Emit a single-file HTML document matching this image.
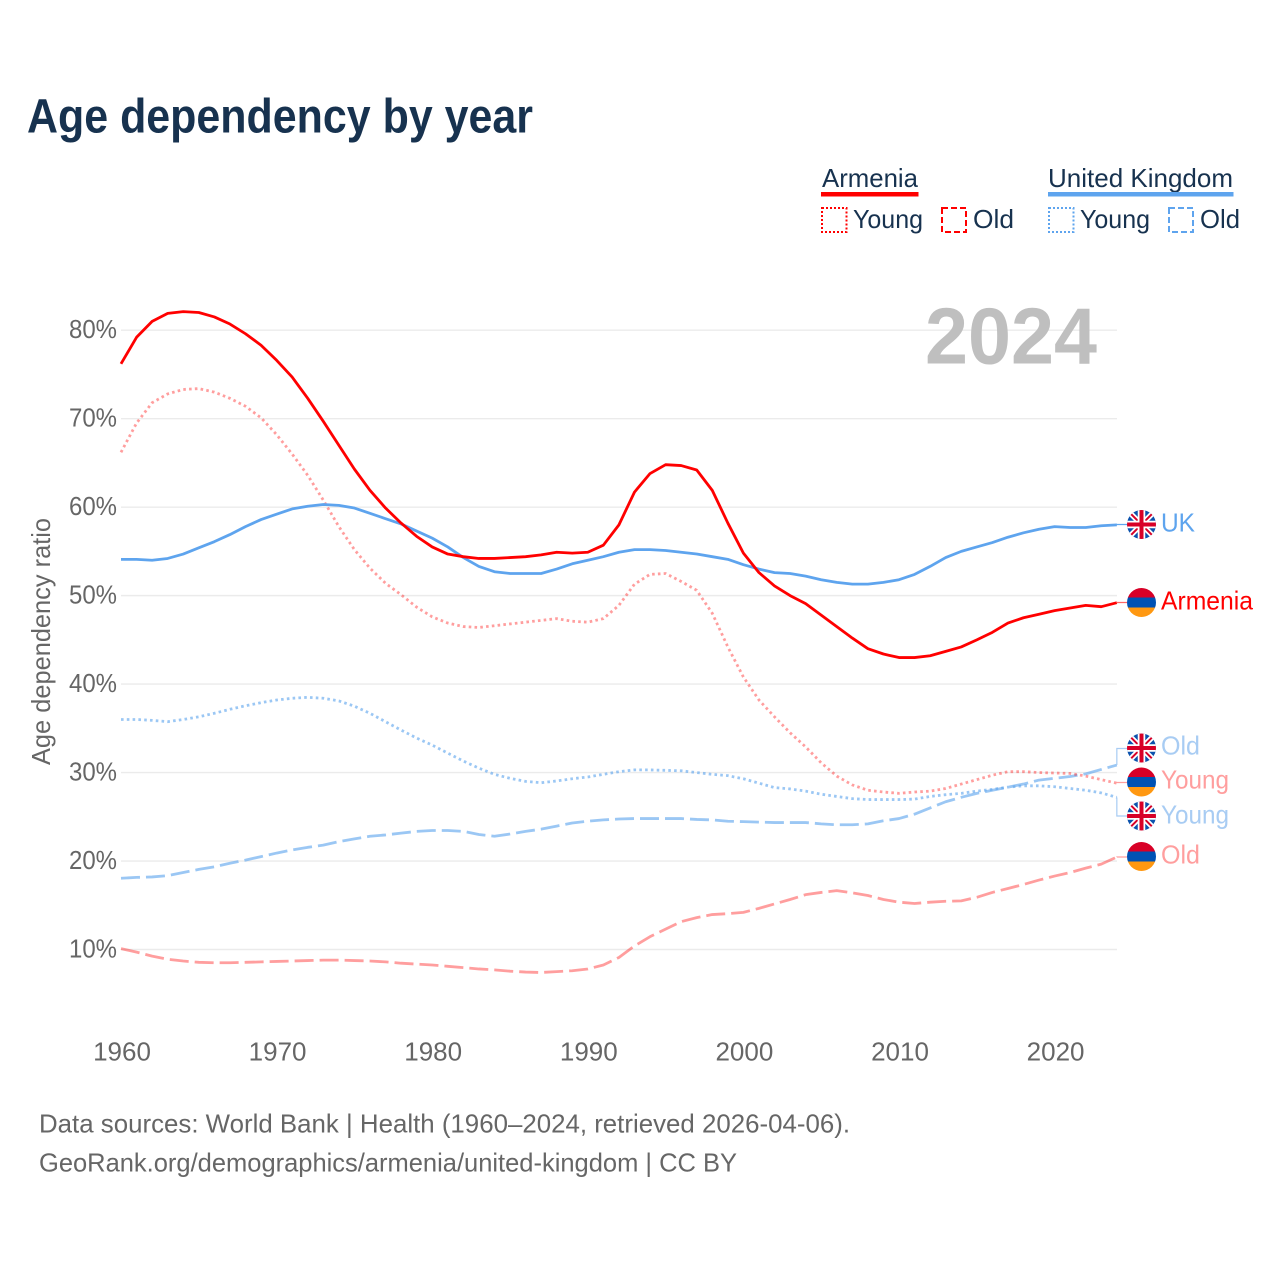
<!DOCTYPE html>
<html lang="en">
<head>
<meta charset="utf-8">
<title>Age dependency by year</title>
<style>
html,body{margin:0;padding:0;background:#fff;}
svg{display:block;font-family:"Liberation Sans",sans-serif;}
</style>
</head>
<body>
<svg id="chart" width="1280" height="1280" viewBox="0 0 1280 1280" xmlns="http://www.w3.org/2000/svg">
  <defs>
    <clipPath id="flag-clip"><circle cx="0" cy="0" r="14.5"/></clipPath>
    <g id="flag-uk" clip-path="url(#flag-clip)">
      <rect x="-15" y="-15" width="30" height="30" fill="#0b52ad"/>
      <path d="M-15-15L15 15M15-15L-15 15" stroke="#fff" stroke-width="5.5"/>
      <path d="M-15-15L15 15M15-15L-15 15" stroke="#d80027" stroke-width="2"/>
      <path d="M0-15V15M-15 0H15" stroke="#fff" stroke-width="7.5"/>
      <path d="M0-15V15M-15 0H15" stroke="#d80027" stroke-width="4"/>
    </g>
    <g id="flag-am" clip-path="url(#flag-clip)">
      <rect x="-15" y="-15" width="30" height="10" fill="#d80027"/>
      <rect x="-15" y="-5" width="30" height="10" fill="#0052b4"/>
      <rect x="-15" y="5" width="30" height="10" fill="#ff9811"/>
    </g>
  </defs>

  <rect x="0" y="0" width="1280" height="1280" fill="#fff"/>

  <text x="27" y="132.5" font-size="48" font-weight="700" fill="#17324f" textLength="506" lengthAdjust="spacingAndGlyphs">Age dependency by year</text>

  <g font-size="26" fill="#17324f">
    <text x="822" y="187" textLength="96" lengthAdjust="spacingAndGlyphs">Armenia</text>
    <rect x="821" y="192" width="97.5" height="4.5" fill="#ff0000"/>
    <rect x="822" y="208" width="24.5" height="24" fill="none" stroke="#ff0000" stroke-width="2" stroke-dasharray="2 2"/>
    <text x="853" y="228" textLength="70" lengthAdjust="spacingAndGlyphs">Young</text>
    <rect x="942" y="208" width="24" height="24" fill="none" stroke="#ff0000" stroke-width="2" stroke-dasharray="6 3"/>
    <text x="973" y="228" textLength="41" lengthAdjust="spacingAndGlyphs">Old</text>

    <text x="1048" y="187" textLength="185" lengthAdjust="spacingAndGlyphs">United Kingdom</text>
    <rect x="1048" y="192" width="185.5" height="4.5" fill="#5ea4ee"/>
    <rect x="1049" y="208" width="24.5" height="24" fill="none" stroke="#5ea4ee" stroke-width="2" stroke-dasharray="2 2"/>
    <text x="1080" y="228" textLength="70" lengthAdjust="spacingAndGlyphs">Young</text>
    <rect x="1169" y="208" width="24" height="24" fill="none" stroke="#5ea4ee" stroke-width="2" stroke-dasharray="6 3"/>
    <text x="1200" y="228" textLength="40" lengthAdjust="spacingAndGlyphs">Old</text>
  </g>

  <g id="grid"></g>
  <g id="y-ticks"></g>
  <g id="x-ticks"></g>

  <text transform="translate(50,765) rotate(-90)" font-size="26" fill="#666" textLength="247" lengthAdjust="spacingAndGlyphs">Age dependency ratio</text>

  <text x="925" y="363.5" font-size="80" font-weight="700" fill="#bfbfbf" textLength="172" lengthAdjust="spacingAndGlyphs">2024</text>

  <g id="series"></g>
  <g id="connectors"></g>

  <g font-size="26">
    <use href="#flag-uk" x="1141.5" y="524.5"/>
    <text x="1161" y="531.5" fill="#5ea4ee" textLength="34" lengthAdjust="spacingAndGlyphs">UK</text>
    <use href="#flag-am" x="1141.5" y="602.5"/>
    <text x="1161" y="609.5" fill="#ff0000" textLength="92" lengthAdjust="spacingAndGlyphs">Armenia</text>
    <use href="#flag-uk" x="1141.5" y="748"/>
    <text x="1161" y="754.5" fill="#a8ccf3" textLength="39" lengthAdjust="spacingAndGlyphs">Old</text>
    <use href="#flag-am" x="1141.5" y="782"/>
    <text x="1161" y="788.5" fill="#ff9e9e" textLength="68" lengthAdjust="spacingAndGlyphs">Young</text>
    <use href="#flag-uk" x="1141.5" y="816"/>
    <text x="1161" y="823.5" fill="#a8ccf3" textLength="68" lengthAdjust="spacingAndGlyphs">Young</text>
    <use href="#flag-am" x="1141.5" y="856.5"/>
    <text x="1161" y="863.5" fill="#ff9e9e" textLength="39" lengthAdjust="spacingAndGlyphs">Old</text>
  </g>

  <g font-size="26" fill="#666">
    <text x="39" y="1132.5" textLength="811" lengthAdjust="spacingAndGlyphs">Data sources: World Bank | Health (1960–2024, retrieved 2026-04-06).</text>
    <text x="39" y="1171.5" textLength="698" lengthAdjust="spacingAndGlyphs">GeoRank.org/demographics/armenia/united-kingdom | CC BY</text>
  </g>
</svg>

<script>
const startYear = 1960;
const yTickValues = [10, 20, 30, 40, 50, 60, 70, 80];
const xTickYears = [1960, 1970, 1980, 1990, 2000, 2010, 2020];

const armeniaTotal = [76.2,79.2,81.0,81.9,82.1,82.0,81.5,80.7,79.6,78.3,76.6,74.7,72.3,69.7,67.0,64.3,61.9,59.9,58.2,56.7,55.5,54.7,
54.4,54.2,54.2,54.3,54.4,54.6,54.9,54.8,54.9,55.7,58.0,61.7,63.8,64.8,64.7,64.2,61.9,58.2,54.8,
52.6,51.1,50.0,49.1,47.8,46.5,45.2,44.0,43.4,43.0,43.0,43.2,43.7,44.2,45.0,45.85,46.9,47.5,47.9,48.3,48.6,48.9,48.75,49.2];

const ukTotal = [54.1,54.1,54.0,54.2,54.7,55.4,56.1,56.9,57.8,58.6,59.2,59.8,60.1,60.3,60.2,59.9,59.3,58.7,58.1,57.3,56.5,55.5,
54.3,53.3,52.7,52.5,52.5,52.5,53.0,53.6,54.0,54.4,54.9,55.2,55.2,55.1,54.9,54.7,54.4,54.1,53.5,
53.0,52.6,52.5,52.2,51.8,51.5,51.3,51.3,51.5,51.8,52.4,53.3,54.3,55.0,55.5,56.0,56.6,57.1,57.5,57.8,57.7,57.7,57.9,58.0];

const armeniaYoung = [66.2,69.5,71.8,72.8,73.3,73.4,73.0,72.3,71.4,70.1,68.2,66.0,63.6,60.8,57.8,55.2,53.1,51.4,50.1,48.7,47.6,46.9,
46.5,46.4,46.6,46.8,47.0,47.2,47.4,47.1,47.0,47.4,48.9,51.3,52.4,52.5,51.6,50.6,48.0,44.2,40.8,
38.2,36.3,34.5,32.9,31.1,29.6,28.6,28.0,27.8,27.65,27.8,27.9,28.2,28.7,29.2,29.7,30.1,30.1,30.0,29.95,29.9,29.6,29.2,28.8];

const ukYoung = [36.0,36.0,35.9,35.75,36.0,36.3,36.7,37.15,37.55,37.9,38.2,38.4,38.5,38.4,38.1,37.5,36.7,35.75,34.8,33.9,33.1,32.2,
31.3,30.5,29.8,29.35,29.0,28.85,29.05,29.3,29.5,29.8,30.1,30.3,30.3,30.25,30.2,30.0,29.8,29.65,29.3,
28.8,28.3,28.15,27.9,27.55,27.3,27.05,26.95,26.95,26.95,27.0,27.3,27.5,27.65,27.9,28.1,28.35,28.5,28.5,28.4,28.2,28.0,27.7,27.2];

const ukOld = [18.05,18.15,18.2,18.35,18.7,19.05,19.35,19.75,20.1,20.5,20.9,21.25,21.55,21.8,22.2,22.5,22.8,22.95,23.15,23.35,23.45,23.45,
23.35,23.0,22.8,23.05,23.35,23.6,23.95,24.3,24.5,24.65,24.75,24.8,24.8,24.8,24.8,24.7,24.65,24.5,24.45,
24.4,24.35,24.35,24.35,24.2,24.1,24.1,24.2,24.55,24.8,25.3,26.0,26.7,27.2,27.65,28.0,28.35,28.7,29.15,29.35,29.55,29.85,30.35,30.85];

const armeniaOld = [10.1,9.7,9.25,8.9,8.7,8.55,8.5,8.5,8.55,8.6,8.65,8.7,8.75,8.8,8.8,8.75,8.7,8.6,8.45,8.35,8.25,8.1,
7.95,7.8,7.7,7.55,7.45,7.4,7.5,7.6,7.8,8.25,9.1,10.4,11.45,12.3,13.15,13.6,13.95,14.05,14.2,
14.65,15.15,15.65,16.2,16.45,16.65,16.4,16.1,15.65,15.35,15.2,15.35,15.45,15.5,15.9,16.45,16.9,17.35,17.85,18.3,18.7,19.2,19.65,20.45];

const SVG_NS = 'http://www.w3.org/2000/svg';
const xScale = function (year) { return 121 + (year - 1960) * 15.56; };
const yScale = function (value) { return 949.5 - (value - 10) * 8.847; };
const pointsFor = function (values) {
  return values.map(function (v, i) { return xScale(startYear + i).toFixed(2) + ',' + yScale(v).toFixed(2); }).join(' ');
};

const gridGroup = document.getElementById('grid');
const yTickGroup = document.getElementById('y-ticks');
yTickValues.forEach(function (v) {
  const line = document.createElementNS(SVG_NS, 'line');
  
  
  line.setAttribute('x1', 121);
  line.setAttribute('x2', 1117);
  line.setAttribute('y1', yScale(v));
  line.setAttribute('y2', yScale(v));
  line.setAttribute('stroke', '#ebebeb');
  line.setAttribute('stroke-width', 1.4);
  gridGroup.appendChild(line);

  const label = document.createElementNS(SVG_NS, 'text');
  
  
  label.setAttribute('x', 69);
  label.setAttribute('y', yScale(v) + 8);
  label.setAttribute('font-size', 26);
  label.setAttribute('fill', '#666');
  label.setAttribute('textLength', 48);
  label.setAttribute('lengthAdjust', 'spacingAndGlyphs');
  label.textContent = v + '%';
  yTickGroup.appendChild(label);
});

const xTickGroup = document.getElementById('x-ticks');
xTickYears.forEach(function (year) {
  const label = document.createElementNS(SVG_NS, 'text');
  
  
  label.setAttribute('x', xScale(year) + 1);
  label.setAttribute('y', 1060.5);
  label.setAttribute('font-size', 26);
  label.setAttribute('fill', '#666');
  label.setAttribute('text-anchor', 'middle');
  label.textContent = year;
  xTickGroup.appendChild(label);
});

const seriesGroup = document.getElementById('series');
const drawLine = function (el, values, color, opacity, dash) {
  el.setAttribute('points', pointsFor(values));
  el.setAttribute('fill', 'none');
  el.setAttribute('stroke', color);
  el.setAttribute('stroke-opacity', opacity);
  el.setAttribute('stroke-width', 2.8);
  el.setAttribute('stroke-linejoin', 'round');
  if (dash) { el.setAttribute('stroke-dasharray', dash); }
  seriesGroup.appendChild(el);
};

const lineUkOld = document.createElementNS(SVG_NS, 'polyline');


drawLine(lineUkOld, ukOld, '#5ea4ee', 0.62, '19 6');

const lineArmeniaOld = document.createElementNS(SVG_NS, 'polyline');


drawLine(lineArmeniaOld, armeniaOld, '#ff0000', 0.38, '19 6');

const lineUkYoung = document.createElementNS(SVG_NS, 'polyline');


drawLine(lineUkYoung, ukYoung, '#5ea4ee', 0.62, '2.6 3.2');

const lineArmeniaYoung = document.createElementNS(SVG_NS, 'polyline');


drawLine(lineArmeniaYoung, armeniaYoung, '#ff0000', 0.38, '2.6 3.2');

const lineUkTotal = document.createElementNS(SVG_NS, 'polyline');


drawLine(lineUkTotal, ukTotal, '#5ea4ee', 1, null);

const lineArmeniaTotal = document.createElementNS(SVG_NS, 'polyline');


drawLine(lineArmeniaTotal, armeniaTotal, '#ff0000', 1, null);

const connectorGroup = document.getElementById('connectors');
const lastX = xScale(startYear + armeniaTotal.length - 1);
const drawConnector = function (el, lastValue, labelY, color) {
  const y0 = yScale(lastValue);
  el.setAttribute('d', 'M' + lastX + ' ' + y0 + 'V' + labelY + 'H1127');
  el.setAttribute('fill', 'none');
  el.setAttribute('stroke', color);
  el.setAttribute('stroke-width', 1.2);
  connectorGroup.appendChild(el);
};

const connectorUkTotal = document.createElementNS(SVG_NS, 'path');


drawConnector(connectorUkTotal, ukTotal[ukTotal.length - 1], 524.5, '#5ea4ee');

const connectorArmeniaTotal = document.createElementNS(SVG_NS, 'path');


drawConnector(connectorArmeniaTotal, armeniaTotal[armeniaTotal.length - 1], 602.5, '#ff6666');

const connectorUkOld = document.createElementNS(SVG_NS, 'path');


drawConnector(connectorUkOld, ukOld[ukOld.length - 1], 748.5, '#a8ccf3');

const connectorArmeniaYoung = document.createElementNS(SVG_NS, 'path');


drawConnector(connectorArmeniaYoung, armeniaYoung[armeniaYoung.length - 1], 782.5, '#ff9e9e');

const connectorUkYoung = document.createElementNS(SVG_NS, 'path');


drawConnector(connectorUkYoung, ukYoung[ukYoung.length - 1], 816, '#a8ccf3');

const connectorArmeniaOld = document.createElementNS(SVG_NS, 'path');


drawConnector(connectorArmeniaOld, armeniaOld[armeniaOld.length - 1], 857, '#ff9e9e');
</script>
</body>
</html>
